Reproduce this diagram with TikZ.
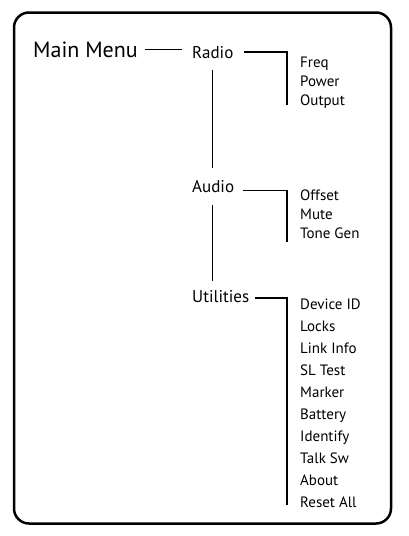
\documentclass[tikz,border=0pt]{standalone}
\usepackage{fontspec}
\setmainfont{PT Sans}
\begin{document}
\begin{tikzpicture}[x=1pt, y=-1pt,
    haupt/.style={font=\fontsize{22}{22}\selectfont, inner sep=0pt, anchor=base west},
    menu/.style={font=\fontsize{17}{17}\selectfont, inner sep=0pt, anchor=base west},
    eintrag/.style={font=\fontsize{15}{15}\selectfont, inner sep=0pt, anchor=base west},
    linie/.style={line width=1.2pt}]
  \useasboundingbox (0,0) rectangle (408,536);

  % Rahmen
  \draw[line width=2.5pt, rounded corners=15pt] (14,12.5) rectangle (391,523.5);

  \node[haupt] (main) at (33,57) {Main Menu};
  \node[menu] (radio) at (192,58.5) {Radio};
  \node[menu] (audio) at (192,192.5) {Audio};
  \node[menu] (util) at (192,302) {Utilities};

  % Untermenues
  \foreach \name/\txt [count=\i] in {freq/Freq, power/Power, output/Output}
    \node[eintrag] (\name) at (300,48+19*\i) {\txt};
  \foreach \name/\txt [count=\i] in {offset/Offset, mute/Mute, tone/Tone Gen}
    \node[eintrag] (\name) at (300,181+19*\i) {\txt};
  \foreach \name/\txt [count=\i] in {devid/Device ID, locks/Locks, link/Link Info,
      sltest/SL Test, marker/Marker, battery/Battery, ident/Identify,
      talk/Talk Sw, about/About, reset/Reset All}
    \node[eintrag] (\name) at (300,287+22*\i) {\txt};

  \begin{scope}[linie]
    \draw[shorten >=10pt] ([xshift=7pt,yshift=7.5pt]main.base east) coordinate (m)
      -- (m -| radio.west);
    \draw ([yshift=-11pt]radio.south) coordinate (r) -- ([yshift=12pt]r |- audio.north);
    \draw ([yshift=-12pt]r |- audio.south) -- ([yshift=9pt]r |- util.north);

    \draw ([xshift=10pt,yshift=6.5pt]radio.base east) -| ([xshift=-13pt]output.base west);
    \draw ([xshift=9pt,yshift=2pt]audio.base east) -| ([xshift=-13pt,yshift=-4pt]tone.base west);
    \draw ([xshift=6pt,yshift=4pt]util.base east) -| ([xshift=-13pt,yshift=2pt]reset.base west);
  \end{scope}
\end{tikzpicture}
\end{document}
